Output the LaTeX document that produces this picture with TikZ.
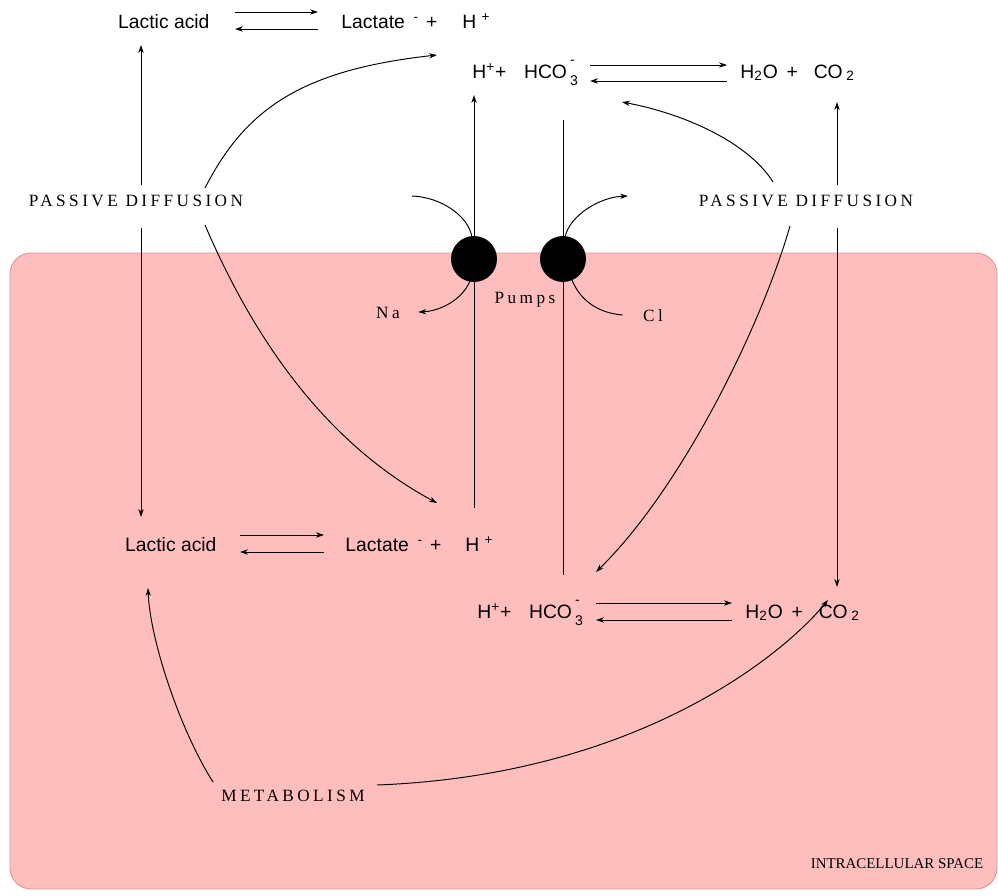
\documentclass[tikz,border=0pt]{standalone}
\usepackage{fontspec}
\setmainfont{Liberation Serif}
\setsansfont{Liberation Sans}
\newfontfamily\lblfont[LetterSpace=20]{Liberation Serif}
\usepackage{tikz}
\usetikzlibrary{arrows.meta,calc}

\definecolor{cellpink}{RGB}{255,190,190}
\definecolor{cellrim}{RGB}{228,150,150}
\newcommand{\hcoion}{HCO\,\rlap{\raisebox{1.3ex}{\footnotesize -}}\raisebox{-0.7ex}{\footnotesize 3}}

\begin{document}
\begin{tikzpicture}[x=0.02cm,y=-0.02cm,line width=0.55pt,
  every node/.style={inner sep=0pt},
  chem/.style={font=\sffamily\fontsize{11}{13}\selectfont},
  lbl/.style={font=\lblfont\fontsize{9.8}{11}\selectfont},
  arr/.style={-{Stealth[length=4.5pt,width=3pt]}},
  pump/.style={circle,fill=black,minimum size=0.92cm}]
\useasboundingbox (0,0) rectangle (998,896);
% intracellular space
\draw[fill=cellpink,draw=cellrim,rounded corners=12] (10,253) rectangle (997,889);
\node[font=\fontsize{8.5}{10}\selectfont] (intra) at (897,864) {INTRACELLULAR SPACE};

% outside reactions
\node[chem,anchor=base east] (lacA) at (210,28) {Lactic acid};
\node[chem,anchor=base west] (lctA) at (341,28) {Lactate\hspace{5pt}\textsuperscript{-}\hspace{4pt}+};
\node[chem,anchor=base west] (hA) at (462,28) {H\hspace{3pt}\textsuperscript{+}};
\draw[arr] ([shift={(25,-16)}]lacA.base east) -- ([shift={(-23,-16)}]lctA.base west);
\draw[arr] ([shift={(-23,1)}]lctA.base west) -- ([shift={(25,1)}]lacA.base east);

\node[chem,anchor=base west] (hcoA) at (472,78) {H\textsuperscript{+}+\hspace{10pt}\hcoion};
\node[chem,anchor=base west] (h2oA) at (740,78) {H\textsubscript{2}O\hspace{5pt}+\hspace{9pt}CO\hspace{2pt}\textsubscript{2}};
\draw[arr] ([shift={(118,-13)}]hcoA.base west) -- ([shift={(-13,-13)}]h2oA.base west);
\draw[arr] ([shift={(-13,3)}]h2oA.base west) -- ([shift={(118,3)}]hcoA.base west);

% inside reactions
\node[chem,anchor=base east] (lacB) at (217,551) {Lactic acid};
\node[chem,anchor=base west] (lctB) at (345,551) {Lactate\hspace{5pt}\textsuperscript{-}\hspace{4pt}+};
\node[chem,anchor=base west] (hB) at (465,551) {H\hspace{3pt}\textsuperscript{+}};
\draw[arr] ([shift={(23,-16)}]lacB.base east) -- ([shift={(-21,-16)}]lctB.base west);
\draw[arr] ([shift={(-21,1)}]lctB.base west) -- ([shift={(23,1)}]lacB.base east);

\node[chem,anchor=base west] (hcoB) at (477,618) {H\textsuperscript{+}+\hspace{10pt}\hcoion};
\node[chem,anchor=base west] (h2oB) at (745,618) {H\textsubscript{2}O\hspace{5pt}+\hspace{9pt}CO\hspace{2pt}\textsubscript{2}};
\draw[arr] ([shift={(119,-15)}]hcoB.base west) -- ([shift={(-13,-15)}]h2oB.base west);
\draw[arr] ([shift={(-13,2)}]h2oB.base west) -- ([shift={(119,2)}]hcoB.base west);

% labels
\node[lbl] (pdL) at (136,201) {PASSIVE DIFFUSION};
\node[lbl] (pdR) at (806,201) {PASSIVE DIFFUSION};
\node[lbl] (metab) at (293,796) {METABOLISM};
\node[lbl] (pumps) at (525,300) {Pumps};
\node[lbl] (na) at (388,313) {Na};
\node[lbl] (cl) at (653,316) {Cl};

% pumps
\node[pump] (pumpA) at (474,259) {};
\node[pump] (pumpB) at (563,259) {};
\draw[arr] ($(pumpA)+(0,249)$) -- ($(pumpA)+(0,-164)$);
\draw ($(pumpB)+(0,-139)$) -- ($(pumpB)+(0,316)$);
\coordinate (naIn) at (412,196);
\coordinate (clOut) at (628,196);
\draw (naIn) .. controls +(28,1) and +(-4,-22) .. ($(pumpA)+(-2,-22)$);
\draw[arr] ($(pumpA)+(-4,22)$) .. controls +(-8,19) and +(22,-1) .. ([shift={(18,-1)}]na.east);
\draw[arr] ($(pumpB)+(2,-22)$) .. controls +(5,-22) and +(-28,1) .. (clOut);
\draw ($(pumpB)+(9,21)$) .. controls +(8,20) and +(-25,-2) .. ([shift={(-20,-1)}]cl.west);

% passive diffusion
\draw[arr] ($(pdL)+(5,-16)$) -- ($(pdL)+(5,-156)$);
\draw[arr] ($(pdL)+(5,27)$) -- ($(pdL)+(5,316)$);
\draw[arr] ($(pdR)+(31,-16)$) -- ($(pdR)+(31,-99)$);
\draw[arr] ($(pdR)+(31,27)$) -- ($(pdR)+(31,386)$);
\draw[arr] ($(pdL)+(69,-13)$) .. controls +(40,-78) and +(-137,15) .. ([shift={(-35,-23)}]hcoA.base west);
\draw[arr] ($(pdL)+(69,24)$) .. controls +(45,105) and +(-117,-63) .. ([shift={(-28,-48)}]hB.base west);
\draw[arr] ($(pdR)+(-33,-19)$) .. controls +(-23,-37) and +(68,13) .. ([shift={(150,24)}]hcoA.base west);
\draw[arr] ($(pdR)+(-16,25)$) .. controls +(-30,104) and +(84,-82) .. ([shift={(119,-46)}]hcoB.base west);

% metabolism
\draw[arr] ($(metab)+(-80,-14)$) .. controls +(-33,-52) and +(2,52) .. ([shift={(-69,37)}]lacB.base east);
\draw[arr] ($(metab)+(84,-11)$) .. controls +(260,-10) and +(-45,55) .. ([shift={(83,-18)}]h2oB.base west);
\end{tikzpicture}
\end{document}
